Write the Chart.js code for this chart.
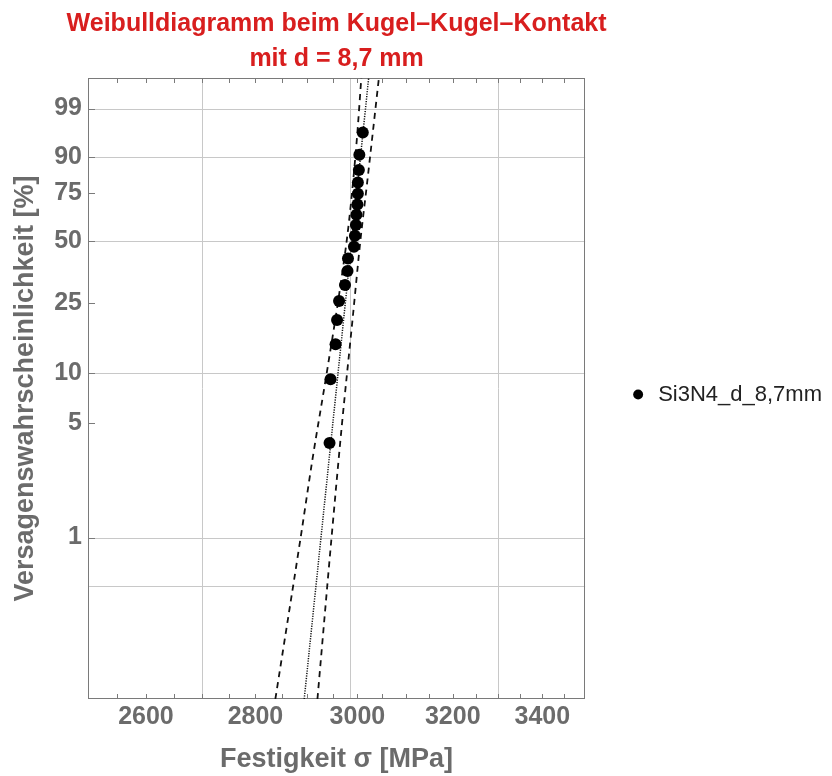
<!DOCTYPE html>
<html lang="de">
<head>
<meta charset="utf-8">
<title>Weibulldiagramm</title>
<script src="https://cdn.jsdelivr.net/npm/chart.js@4.4.0/dist/chart.umd.min.js"></script>
<style>
  html, body { margin: 0; padding: 0; background: #fff; }
  #wrap { width: 832px; height: 776px; }
</style>
</head>
<body>
<div id="wrap"><canvas id="weibull"></canvas></div>
<script>
// Messwerte: Bruchfestigkeit [MPa] und Versagenswahrscheinlichkeit [%]
const strength = [2944, 2946, 2956, 2959, 2963, 2975, 2980, 2981, 2993, 2995, 2997, 2998, 3000, 3001, 3001, 3003, 3004, 3011];
const failProb = [3.8, 9.2, 14.7, 20.1, 25.5, 31.0, 36.4, 41.8, 47.3, 52.7, 58.2, 63.6, 69.0, 74.5, 79.9, 85.3, 90.8, 96.2];

// Ausgleichsgerade und Vertrauensgrenzen
const fitStrength   = [2894, 3023];
const fitProb       = [0.1, 99.92];
const lowerStrength = [2838, 2887, 2910, 2940, 2966, 2983, 2999, 3008];
const lowerProb     = [0.1, 1, 3, 10.7, 31, 60, 95, 99.92];
const upperStrength = [2920, 2948, 2969, 2990, 3006, 3020, 3044];
const upperProb     = [0.1, 1, 5, 20, 50, 80, 99.92];

// Achsen
const xLabels  = [2600, 2800, 3000, 3200, 3400];
const xMarks   = [2550, 2600, 2650, 2700, 2750, 2800, 2850, 2900, 2950, 3000, 3050, 3100, 3150, 3200, 3250, 3300, 3350, 3400, 3450];
const xGrid    = [2700, 2985, 3300];
const yLabels  = [1, 5, 10, 25, 50, 75, 90, 99];
const yGrid    = [0.5, 1, 10, 50, 90, 99];
const probMin  = 0.1;
const probMax  = 99.92;

// Weibull-Transformation der Ordinate: ln(-ln(1 - F))
const weib = p => Math.log(-Math.log(1 - p / 100));
const pts = (xs, ps) => xs.map((v, i) => ({ x: v, y: weib(ps[i]) }));

const FONT = "'Liberation Sans', Arial, sans-serif";
const GREY = '#6b6b6b';

// Rahmen, innenliegende Striche und Gitterlinien
const frame = {
  id: 'frame',
  afterLayout(chart) {
    // Titel darf breiter als der Plotbereich sein, bleibt aber darüber zentriert
    const t = chart.titleBlock;
    if (t) { t.left -= 40; t.right += 40; t.width += 80; }
  },
  beforeDatasetsDraw(chart) {
    const { ctx, chartArea: a, scales: { x, y } } = chart;
    const seg = (x1, y1, x2, y2) => { ctx.beginPath(); ctx.moveTo(x1, y1); ctx.lineTo(x2, y2); ctx.stroke(); };
    ctx.save();
    ctx.lineWidth = 1;
    ctx.strokeStyle = '#c8c8c8';
    xGrid.forEach(v => { const px = Math.round(x.getPixelForValue(v)) + 0.5; seg(px, a.top, px, a.bottom); });
    yGrid.forEach(p => { const py = Math.round(y.getPixelForValue(weib(p))) + 0.5; seg(a.left, py, a.right, py); });
    ctx.strokeStyle = '#7a7a7a';
    xMarks.forEach(v => {
      const px = Math.round(x.getPixelForValue(v)) + 0.5;
      seg(px, a.bottom, px, a.bottom - 5);
      seg(px, a.top, px, a.top + 5);
    });
    yLabels.forEach(p => { const py = Math.round(y.getPixelForValue(weib(p))) + 0.5; seg(a.left, py, a.left + 7, py); });
    ctx.strokeRect(Math.round(a.left) + 0.5, Math.round(a.top) + 0.5, Math.round(a.width) - 1, Math.round(a.height) - 1);
    ctx.restore();
  }
};

new Chart(document.getElementById('weibull'), {
  type: 'scatter',
  data: {
    datasets: [
      {
        label: 'Si3N4_d_8,7mm',
        data: pts(strength, failProb),
        backgroundColor: '#000',
        borderColor: '#000',
        pointStyle: 'circle',
        pointRadius: 6,
        pointBorderWidth: 0,
        order: 0
      },
      {
        label: 'fit',
        data: pts(fitStrength, fitProb),
        showLine: true,
        borderColor: '#111',
        borderWidth: 1.5,
        borderDash: [1.2, 1.3],
        pointRadius: 0,
        order: 1
      },
      {
        label: 'lower',
        data: pts(lowerStrength, lowerProb),
        showLine: true,
        cubicInterpolationMode: 'monotone',
        borderColor: '#111',
        borderWidth: 1.8,
        borderDash: [6, 5],
        pointRadius: 0,
        order: 2
      },
      {
        label: 'upper',
        data: pts(upperStrength, upperProb),
        showLine: true,
        cubicInterpolationMode: 'monotone',
        borderColor: '#111',
        borderWidth: 1.8,
        borderDash: [6, 5],
        pointRadius: 0,
        order: 3
      }
    ]
  },
  options: {
    responsive: true,
    maintainAspectRatio: false,
    animation: false,
    layout: { padding: { left: 0, right: 0, top: 0, bottom: 0 } },
    plugins: {
      tooltip: { enabled: false },
      title: {
        display: true,
        fullSize: false,
        text: ['Weibulldiagramm beim Kugel\u2013Kugel\u2013Kontakt', 'mit d = 8,7 mm'],
        color: '#d81e1e',
        font: { family: FONT, size: 25, weight: 'bold', lineHeight: 1.4 },
        padding: { top: 7, bottom: 1 }
      },
      legend: {
        position: 'right',
        align: 'center',
        fullSize: false,
        maxWidth: 300,
        title: { display: true, text: '', padding: 0, font: { size: 10, lineHeight: 1.2 } },
        labels: {
          filter: item => item.datasetIndex === 0,
          usePointStyle: true,
          boxWidth: 18,
          boxHeight: 7,
          padding: 44,
          color: '#222',
          font: { family: FONT, size: 22 }
        }
      }
    },
    scales: {
      x: {
        type: 'logarithmic',
        position: 'bottom',
        min: 2500,
        max: 3500,
        afterBuildTicks: s => { s.ticks = xLabels.map(v => ({ value: v })); },
        afterFit: s => { s.height = 77; },
        grid: { display: false, drawTicks: false },
        border: { display: false },
        ticks: {
          autoSkip: false,
          maxRotation: 0,
          padding: 3,
          color: GREY,
          font: { family: FONT, size: 25, weight: 'bold' },
          callback: v => String(v)
        },
        title: {
          display: true,
          text: 'Festigkeit σ [MPa]',
          color: GREY,
          font: { family: FONT, size: 27, weight: 'bold' },
          padding: { top: 0, bottom: 0 }
        }
      },
      y: {
        type: 'linear',
        position: 'left',
        min: weib(probMin),
        max: weib(probMax),
        afterBuildTicks: s => { s.ticks = yLabels.map(p => ({ value: weib(p) })); },
        afterFit: s => { s.width = 88; },
        grid: { display: false, drawTicks: false },
        border: { display: false },
        ticks: {
          autoSkip: false,
          padding: 6,
          color: GREY,
          font: { family: FONT, size: 25, weight: 'bold' },
          callback: (v, i) => String(yLabels[i])
        },
        title: {
          display: true,
          text: 'Versagenswahrscheinlichkeit [%]',
          color: GREY,
          font: { family: FONT, size: 27, weight: 'bold' },
          padding: { top: 9, bottom: 0 }
        }
      }
    }
  },
  plugins: [frame]
});
</script>
</body>
</html>
